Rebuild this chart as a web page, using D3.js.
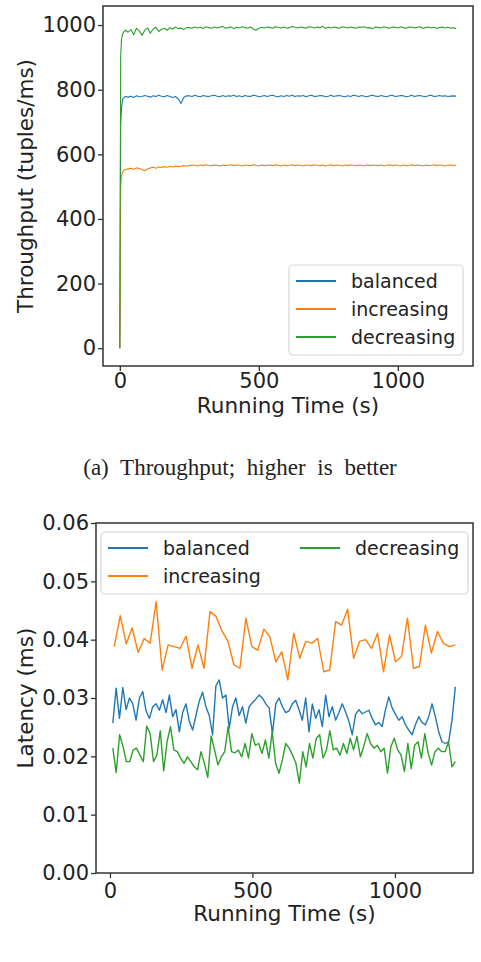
<!DOCTYPE html>
<html><head><meta charset="utf-8">
<script src="https://cdn.jsdelivr.net/npm/d3@7"></script>
<style>body{margin:0;background:#fff}svg{display:block}text{font-family:"DejaVu Sans",sans-serif;fill:#222}</style>
</head><body><svg id="c" width="481" height="962"></svg>
<script>
// ---------- DATA ----------
const seriesNames = ["balanced", "increasing", "decreasing"];
const seriesColors = ["#1f77b4", "#ff7f0e", "#2ca02c"];

// Throughput (tuples/ms) vs running time (s)
const tpTime = [0, 3, 6, 10, 15, 20].concat(d3.range(30, 1211, 10));
const tpBalanced = [0, 690, 742, 770, 776, 779,
  777,780,776,781,778,779,782,780,777,781,779,783,780,778,782,779,776,779,772,757,776,781,
  781,779,783,780,778,782,780,779,781,783,780,778,782,779,781,780,783,779,781,778,
  782,780,779,783,781,778,780,782,779,781,783,780,778,781,779,782,780,783,779,781,
  780,782,778,781,783,779,780,782,781,778,780,783,779,781,782,780,778,781,779,783,
  781,779,782,780,778,781,783,780,779,782,780,778,781,783,779,780,782,781,778,780,
  783,779,781,782,780,778,781,783,779,780,782,780,781,779,780,781,780];
const tpIncreasing = [0, 500, 533, 545, 550, 553,
  555,557,554,558,556,552,549,555,558,560,557,561,559,562,560,563,561,564,562,563,565,563,
  565,567,566,564,567,565,568,566,565,567,566,564,567,565,566,568,565,567,566,564,
  567,566,565,568,566,564,567,565,566,567,565,568,566,564,567,565,566,568,565,567,
  566,564,567,566,565,568,566,565,567,564,566,568,565,567,566,564,567,565,568,566,
  565,567,566,564,568,565,567,566,565,567,564,566,568,565,567,566,564,567,565,566,
  568,565,567,566,564,567,565,566,568,565,567,566,564,566,567,565,566];
const tpDecreasing = [0, 900, 955, 972, 980, 984,
  978,986,970,990,982,968,985,991,975,988,993,980,987,990,984,992,988,994,989,991,986,992,
  992,990,994,991,993,989,995,992,990,994,991,993,996,990,992,994,989,993,991,995,
  992,990,994,988,984,990,993,991,994,992,990,995,993,991,994,990,992,996,993,991,
  994,992,990,995,993,991,994,992,996,990,993,991,994,992,990,995,993,991,994,992,
  990,994,993,995,991,992,989,994,993,991,995,992,990,994,993,991,995,992,990,993,
  994,991,993,995,990,992,994,991,993,990,992,994,991,993,990,992,989];

// Latency (ms), sampled evenly over the run
const latRange = [10, 1212];
const latBalanced = [
  .0257,.0317,.0265,.0318,.0280,.0300,.0290,.0262,.0300,.0311,.0278,.0265,.0285,.0290,.0279,.0297,.0275,.0305,.0268,.0280,
  .0242,.0275,.0290,.0260,.0245,.0270,.0295,.0310,.0285,.0270,.0237,.0321,.0331,.0300,.0305,.0248,.0285,.0300,.0270,.0285,
  .0257,.0285,.0292,.0298,.0305,.0300,.0290,.0283,.0239,.0290,.0300,.0285,.0275,.0278,.0290,.0296,.0280,.0262,.0300,.0242,
  .0290,.0265,.0280,.0251,.0305,.0268,.0285,.0262,.0275,.0290,.0276,.0260,.0237,.0272,.0280,.0273,.0276,.0279,.0265,.0254,
  .0258,.0251,.0280,.0302,.0283,.0272,.0262,.0268,.0254,.0245,.0237,.0254,.0268,.0258,.0254,.0268,.0290,.0268,.0242,.0225,
  .0222,.0225,.0262,.0319];
const latIncreasing = [
  .0388,.0441,.0393,.0420,.0378,.0402,.0394,.0465,.0348,.0391,.0388,.0385,.0406,.0351,.0391,.0351,.0448,.0440,
  .0415,.0397,.0357,.0351,.0437,.0388,.0382,.0418,.0405,.0362,.0379,.0331,.0411,.0368,.0397,.0394,.0402,.0345,.0348,.0431,
  .0425,.0452,.0368,.0397,.0400,.0385,.0411,.0345,.0408,.0362,.0371,.0437,.0351,.0354,.0425,.0377,.0414,.0394,.0388,.0391];
const latDecreasing = [
  .0214,.0172,.0237,.0217,.0191,.0191,.0211,.0214,.0202,.0191,.0252,.0239,.0191,.0202,.0244,.0175,.0225,.0251,.0211,.0208,
  .0197,.0188,.0199,.0191,.0182,.0177,.0208,.0188,.0164,.0235,.0211,.0185,.0199,.0208,.0251,.0208,.0206,.0211,.0199,.0222,
  .0197,.0239,.0219,.0222,.0205,.0228,.0197,.0242,.0188,.0171,.0194,.0222,.0214,.0202,.0188,.0154,.0208,.0182,.0222,.0197,
  .0231,.0237,.0197,.0211,.0244,.0211,.0214,.0202,.0222,.0205,.0231,.0211,.0234,.0199,.0217,.0239,.0222,.0214,.0219,.0208,
  .0214,.0171,.0217,.0231,.0211,.0202,.0174,.0222,.0179,.0219,.0225,.0197,.0239,.0205,.0185,.0208,.0214,.0208,.0208,.0225,
  .0182,.0191];
const latStart = [10, 15, 10];

const tpYTicks = [0, 200, 400, 600, 800, 1000];
const latYTicks = [0, 0.01, 0.02, 0.03, 0.04, 0.05, 0.06];
const xTicks = [0, 500, 1000];
const caption = "(a) Throughput; higher is better";

// ---------- DRAW ----------
const svg = d3.select("#c");
const tickFont = 21, labelFont = 21.5, legendFont = 19;

function frame(box, x, y, yTicks, yFmt, xPad) {
  const gx = svg.append("g").attr("transform", `translate(0,${box.b})`)
    .call(d3.axisBottom(x).tickValues(xTicks).tickSize(5).tickPadding(xPad).tickFormat(d3.format("d")));
  const gy = svg.append("g").attr("transform", `translate(${box.l},0)`)
    .call(d3.axisLeft(y).tickValues(yTicks).tickSize(5).tickPadding(2).tickFormat(yFmt));
  [gx, gy].forEach(g => {
    g.select(".domain").remove();
    g.selectAll("line").attr("stroke", "#333").attr("stroke-width", 1.3);
    g.selectAll("text").style("font-size", tickFont + "px").style("font-family", "DejaVu Sans").attr("fill", "#222");
  });
}
function border(box) {
  svg.append("rect").attr("x", box.l).attr("y", box.t).attr("width", box.r - box.l).attr("height", box.b - box.t)
    .attr("fill", "none").attr("stroke", "#333").attr("stroke-width", 1.5);
}
function legend(items, box, pos) {
  const g = svg.append("g");
  g.append("rect").attr("x", box.x).attr("y", box.y).attr("width", box.w).attr("height", box.h)
    .attr("rx", 4).attr("fill", "#fff").attr("fill-opacity", 0.8).attr("stroke", "#d6d6d6").attr("stroke-width", 1.2);
  items.forEach((it, i) => {
    const p = pos[i];
    g.append("line").attr("x1", p[0]).attr("x2", p[0] + 40).attr("y1", p[1]).attr("y2", p[1])
      .attr("stroke", it.color).attr("stroke-width", 1.8);
    g.append("text").attr("x", p[0] + 55).attr("y", p[1]).attr("dy", "0.35em")
      .style("font-size", legendFont + "px").attr("fill", "#333").text(it.name);
  });
}

// Top chart: throughput
const tb = {l: 103, r: 473, t: 6, b: 366};
const xT = d3.scaleLinear().domain([-60.5, 1270.5]).range([tb.l, tb.r]);
const yT = d3.scaleLinear().domain([-55, 1059]).range([tb.b, tb.t]);
const tpSeries = [tpBalanced, tpIncreasing, tpDecreasing];
const lineT = d3.line().x((d, i) => xT(tpTime[i])).y(d => yT(d));
tpSeries.forEach((s, k) => {
  svg.append("path").datum(s).attr("d", lineT).attr("fill", "none")
    .attr("stroke", seriesColors[k]).attr("stroke-width", 1.1).attr("stroke-linejoin", "round");
});
frame(tb, xT, yT, tpYTicks, d3.format("d"), 2.5);
border(tb);
legend(seriesNames.map((n, i) => ({name: n, color: seriesColors[i]})),
  {x: 289, y: 265, w: 174, h: 90}, [[296, 281], [296, 309], [296, 337]]);
svg.append("text").attr("x", (tb.l + tb.r) / 2).attr("y", 413).attr("text-anchor", "middle")
  .style("font-size", labelFont + "px").text("Running Time (s)");
svg.append("text").attr("transform", `translate(33,${(tb.t + tb.b) / 2}) rotate(-90)`).attr("text-anchor", "middle")
  .style("font-size", labelFont + "px").text("Throughput (tuples/ms)");

// Caption
svg.append("text").attr("x", 240).attr("y", 475).attr("text-anchor", "middle")
  .style("font-family", "'Liberation Serif', 'Times New Roman', serif").style("font-size", "23px")
  .style("word-spacing", "6px").attr("fill", "#111").text(caption);

// Bottom chart: latency
const bb = {l: 96, r: 473, t: 523, b: 873};
const xB = d3.scaleLinear().domain([-49, 1274]).range([bb.l, bb.r]);
const yB = d3.scaleLinear().domain([0, 0.06]).range([bb.b, bb.t]);
const latSeries = [latBalanced, latIncreasing, latDecreasing];
latSeries.forEach((s, k) => {
  const t = d3.scaleLinear().domain([0, s.length - 1]).range([latStart[k], latRange[1]]);
  const line = d3.line().x((d, i) => xB(t(i))).y(d => yB(d));
  svg.append("path").datum(s).attr("d", line).attr("fill", "none")
    .attr("stroke", seriesColors[k]).attr("stroke-width", 1.4).attr("stroke-linejoin", "round");
});
frame(bb, xB, yB, latYTicks, d3.format(".2f"), 5);
border(bb);
legend([{name: "balanced", color: seriesColors[0]}, {name: "increasing", color: seriesColors[1]}, {name: "decreasing", color: seriesColors[2]}],
  {x: 101, y: 532, w: 367, h: 62}, [[108, 548], [108, 576], [300, 548]]);
svg.append("text").attr("x", (bb.l + bb.r) / 2).attr("y", 921).attr("text-anchor", "middle")
  .style("font-size", labelFont + "px").text("Running Time (s)");
svg.append("text").attr("transform", `translate(33,${(bb.t + bb.b) / 2}) rotate(-90)`).attr("text-anchor", "middle")
  .style("font-size", labelFont + "px").text("Latency (ms)");
</script></body></html>
